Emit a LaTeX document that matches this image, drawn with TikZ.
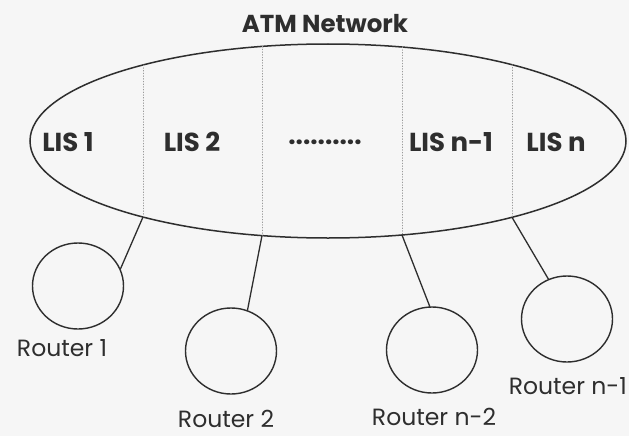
\documentclass[tikz,border=0pt]{standalone}
\usepackage{fontspec}
\setmainfont{Poppins}
\usepackage{xcolor}
\usetikzlibrary{shapes.geometric, positioning, calc}
\definecolor{atmInk}{HTML}{2E2E2E}
\definecolor{atmDot}{HTML}{9A9A9A}
\definecolor{atmPaper}{HTML}{F6F6F6}

\begin{document}
\begin{tikzpicture}[x=1pt, y=-1pt, line cap=round,
  cloud/.style={draw=atmInk, line width=1.5pt, ellipse, inner sep=0pt,
    minimum width=596pt, minimum height=194pt},
  router/.style={draw=atmInk, line width=1.4pt, ellipse, inner sep=0pt,
    minimum width=91pt, minimum height=86pt},
  lislabel/.style={font=\fontsize{26}{28}\selectfont\bfseries, text=atmInk},
  rtlabel/.style={font=\fontsize{23.5}{26}\selectfont, text=atmInk, inner sep=1pt,
    text height=0.72em, text depth=0pt},
  divider/.style={draw=atmDot, line width=0.7pt, dotted},
  link/.style={draw=atmInk, line width=1.3pt}
]
  \fill[atmPaper] (0,0) rectangle (629,436);
  \useasboundingbox (0,0) rectangle (629,436);

  % ATM network with its logical IP subnets
  \node[font=\fontsize{24.5}{26}\selectfont\bfseries, text=atmInk] (title) at (325,24) {ATM Network};
  \node[cloud] (atm) at (328,141) {};
  \foreach \i/\x/\t/\b in {1/143/65/217, 2/262/46.4/235.6, 3/402/47/235, 4/512/64.7/217.3}{
    \coordinate (t\i) at (\x,\t);
    \coordinate (b\i) at (\x,\b);
    \draw[divider] (t\i) -- (b\i);
  }
  \node[lislabel] (lis1) at (68,142) {LIS 1};
  \node[lislabel] (lis2) at (192,142) {LIS 2};
  \node[lislabel] (lisdots) at (325,142) {..........};
  \node[lislabel] (lisn1) at (451,142) {LIS n-1};
  \node[lislabel] (lisn) at (556,142) {LIS n};

  % routers
  \node[router] (r1) at (78,286) {};
  \node[router] (r2) at (231,351) {};
  \node[router] (r3) at (432,350) {};
  \node[router] (r4) at (567,319) {};
  \node[rtlabel] (r1l) at (62,353) {Router 1};
  \node[rtlabel] (r2l) at (226,424) {Router 2};
  \node[rtlabel] (r3l) at (434,422) {Router n-2};
  \node[rtlabel, anchor=east] (r4l) at (628,391) {Router n-1};

  \draw[link] (b1) -- (r1.22);
  \draw[link] (b2) -- (r2.68);
  \draw[link] (b3) -- (r3.93);
  \draw[link] (b4) -- (r4.115);
\end{tikzpicture}
\end{document}
